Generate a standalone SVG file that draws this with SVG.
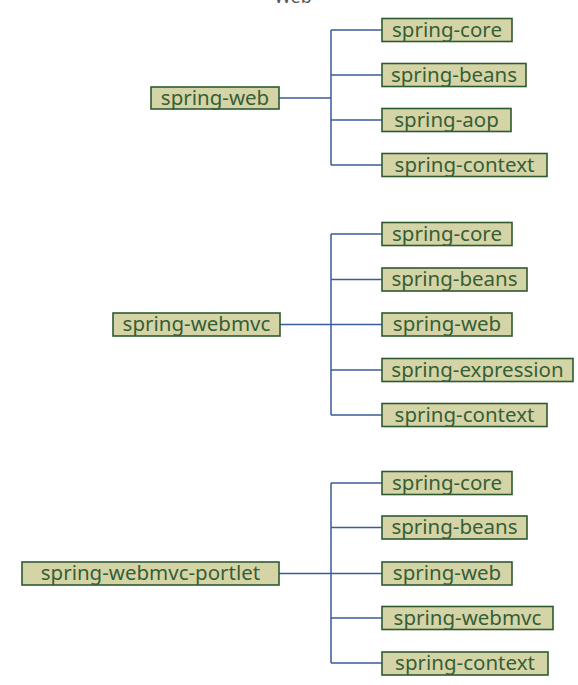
<svg xmlns="http://www.w3.org/2000/svg" width="578" height="685" viewBox="0 0 578 685">
<style>
.box{fill:#d5d4a6;stroke:#2e5a30;stroke-width:1.6}
.lbl{font-family:"Noto Sans","Open Sans",sans-serif;font-size:20.5px;fill:#355f37;text-anchor:middle}
.con{fill:none;stroke:#3a5b9b;stroke-width:1.5}
.ttl{font-family:"Noto Sans",sans-serif;font-size:18px;fill:#555;text-anchor:middle}
</style>
<rect width="578" height="685" fill="#fff"/>
<text class="ttl" x="293" y="3">Web</text>
<g id="connectors">
<path class="con" d="M279 98H331M331 30V165M331 30H382M331 75H382M331 120H382M331 165H382"/>
<path class="con" d="M280 324.5H331M331 234V415M331 234H382M331 279.5H382M331 324.5H382M331 370H382M331 415H382"/>
<path class="con" d="M279 573.5H331M331 483V663M331 483H382M331 527.5H382M331 573.5H382M331 618H382M331 663H382"/>
</g>
<g id="spring-web"><rect class="box" x="151" y="87" width="128" height="22"/><text class="lbl" x="215" y="104.5">spring-web</text></g>
<g id="w-core"><rect class="box" x="382" y="18.5" width="130" height="23"/><text class="lbl" x="447" y="36.5">spring-core</text></g>
<g id="w-beans"><rect class="box" x="382" y="63.5" width="144" height="23"/><text class="lbl" x="454" y="81.5">spring-beans</text></g>
<g id="w-aop"><rect class="box" x="382" y="108.5" width="129" height="23"/><text class="lbl" x="446.5" y="126.5">spring-aop</text></g>
<g id="w-context"><rect class="box" x="382" y="153.5" width="165" height="23"/><text class="lbl" x="464.5" y="171.5">spring-context</text></g>
<g id="spring-webmvc"><rect class="box" x="113" y="313" width="167" height="23"/><text class="lbl" x="196.5" y="331">spring-webmvc</text></g>
<g id="m-core"><rect class="box" x="382" y="222.5" width="130" height="23"/><text class="lbl" x="447" y="240.5">spring-core</text></g>
<g id="m-beans"><rect class="box" x="382" y="268" width="145" height="23"/><text class="lbl" x="454.5" y="286">spring-beans</text></g>
<g id="m-web"><rect class="box" x="382" y="313" width="130" height="23"/><text class="lbl" x="447" y="331">spring-web</text></g>
<g id="m-expression"><rect class="box" x="382" y="358.5" width="191" height="23"/><text class="lbl" x="477.5" y="376.5">spring-expression</text></g>
<g id="m-context"><rect class="box" x="382" y="403.5" width="165" height="23"/><text class="lbl" x="464.5" y="421.5">spring-context</text></g>
<g id="spring-webmvc-portlet"><rect class="box" x="22" y="562" width="257" height="23"/><text class="lbl" x="150.5" y="580">spring-webmvc-portlet</text></g>
<g id="p-core"><rect class="box" x="382" y="471.5" width="130" height="23"/><text class="lbl" x="447" y="489.5">spring-core</text></g>
<g id="p-beans"><rect class="box" x="382" y="516" width="145" height="23"/><text class="lbl" x="454.5" y="534">spring-beans</text></g>
<g id="p-web"><rect class="box" x="382" y="562" width="130" height="23"/><text class="lbl" x="447" y="580">spring-web</text></g>
<g id="p-webmvc"><rect class="box" x="382" y="606.5" width="171" height="23"/><text class="lbl" x="467.5" y="624.5">spring-webmvc</text></g>
<g id="p-context"><rect class="box" x="382" y="652" width="166" height="23"/><text class="lbl" x="465" y="670">spring-context</text></g>
</svg>
